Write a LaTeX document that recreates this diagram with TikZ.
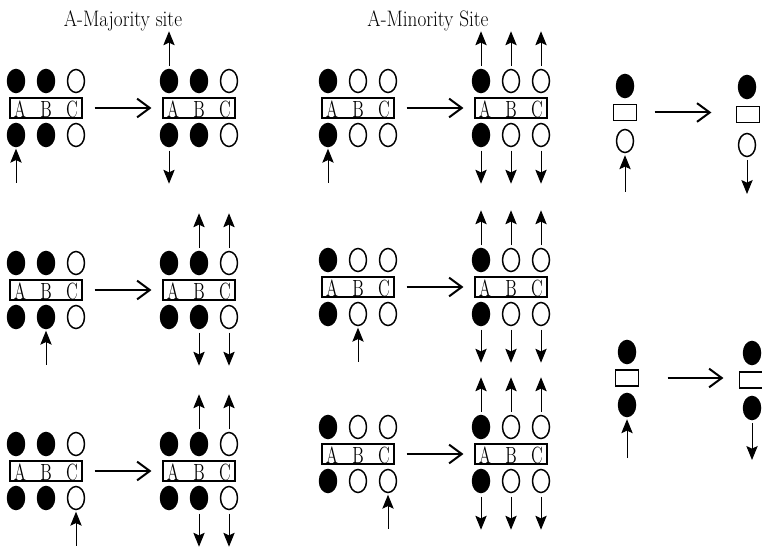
\documentclass[tikz,border=0pt]{standalone}
\usepackage{graphicx}
\usetikzlibrary{shapes.geometric,arrows.meta,calc}
\tikzset{
 dot/.style={ellipse, draw, line width=1.1pt, minimum width=12.75pt, minimum height=17.25pt, inner sep=0pt},
 sitebox/.style={rectangle, draw, line width=0.8pt, minimum width=54pt, minimum height=15pt, inner sep=0pt},
 smallbox/.style={rectangle, draw, line width=0.9pt, minimum width=17.25pt, minimum height=12pt, inner sep=0pt},
 lett/.style={anchor=base, inner sep=0pt, font=\fontsize{13.5}{16}\selectfont},
 ttl/.style={anchor=base, inner sep=0pt, font=\fontsize{15}{18}\selectfont},
 varrow/.style={line width=0.75pt, -{Stealth[length=10.5pt,width=8.5pt,inset=2pt]}},
 harrow/.style={line width=1.5pt, -{Straight Barb[length=9.5pt,width=14pt]}}
}
\newcommand\mkpanel[6]{%
 \node[sitebox] (#1box) at (#2,#3) {};
 \foreach \k/\dx/\lx/\f/\L in {a/-30/-26/#4/A, b/0/0/#5/B, c/30/26/#6/C}{
   \node[dot, fill=\f] (#1t\k) at ({#2+\dx},{#3-27}) {};
   \node[dot, fill=\f] (#1b\k) at ({#2+\dx},{#3+27}) {};
   \node[lett] (#1l\k) at ({#2+\lx},{#3+9.5}) {\scalebox{0.92}[1.3]{\L}};
 }}
\newcommand\inarrow[2]{%
 \coordinate (#1in) at ($(#1b#2.south)+(0,35.5)$);
 \draw[varrow, shorten >=1.1pt] (#1in) -- (#1b#2);}
\newcommand\outarrows[2]{%
 \coordinate (#1up#2) at ($(#1t#2.north)+(0,-37.5)$);
 \draw[varrow, shorten <=1.9pt] (#1t#2) -- (#1up#2);
 \coordinate (#1dn#2) at ($(#1b#2.south)+(0,36.5)$);
 \draw[varrow, shorten <=2.6pt] (#1b#2) -- (#1dn#2);}
\newcommand\transarrow[2]{%
 \draw[harrow, shorten <=9pt, shorten >=8.25pt] (#1box.east) -- (#1box.east -| #2box.west);}
\begin{document}
\begin{tikzpicture}[x=0.75pt,y=-0.75pt]
\useasboundingbox (0,0) rectangle (762,548);
% titles
\node[ttl] (t1) at (123,27) {\scalebox{0.96}[1.12]{A-Majority site}};
\node[ttl] (t2) at (428,27) {\scalebox{0.96}[1.12]{A-Minority Site}};
% left column
\mkpanel{pal}{46}{108}{black}{black}{white}
\mkpanel{par}{199}{108}{black}{black}{white}
\inarrow{pal}{a} \outarrows{par}{a} \transarrow{pal}{par}
\mkpanel{pbl}{46}{290}{black}{black}{white}
\mkpanel{pbr}{199}{290}{black}{black}{white}
\inarrow{pbl}{b} \outarrows{pbr}{b} \outarrows{pbr}{c} \transarrow{pbl}{pbr}
\mkpanel{pcl}{46}{471}{black}{black}{white}
\mkpanel{pcr}{199}{471}{black}{black}{white}
\inarrow{pcl}{c} \outarrows{pcr}{b} \outarrows{pcr}{c} \transarrow{pcl}{pcr}
% middle column
\mkpanel{mal}{358}{108}{black}{white}{white}
\mkpanel{mar}{511}{108}{black}{white}{white}
\inarrow{mal}{a} \outarrows{mar}{a} \outarrows{mar}{b} \outarrows{mar}{c} \transarrow{mal}{mar}
\mkpanel{mbl}{358}{287}{black}{white}{white}
\mkpanel{mbr}{511}{287}{black}{white}{white}
\inarrow{mbl}{b} \outarrows{mbr}{a} \outarrows{mbr}{b} \outarrows{mbr}{c} \transarrow{mbl}{mbr}
\mkpanel{mcl}{358}{454}{black}{white}{white}
\mkpanel{mcr}{511}{454}{black}{white}{white}
\inarrow{mcl}{c} \outarrows{mcr}{a} \outarrows{mcr}{b} \outarrows{mcr}{c} \transarrow{mcl}{mcr}
% right column, top
\node[dot, fill=black] (qAlt) at (625,86) {};
\node[smallbox] (qAlbox) at (625,112.5) {};
\node[dot, fill=white] (qAlb) at (625,141) {};
\coordinate (qAin) at (625,192);
\draw[varrow, shorten >=1.5pt] (qAin) -- (qAlb);
\node[dot, fill=black] (qArt) at (747,87) {};
\node[smallbox] (qArbox) at (748,114.5) {};
\node[dot, fill=white] (qArb) at (747,145) {};
\coordinate (qAout) at (747,194);
\draw[varrow, shorten <=2pt] (qArb) -- (qAout);
\draw[harrow, shorten <=13.1pt, shorten >=18.4pt] (qAlbox.east) -- (qAlbox.east -| qArbox.west);
% right column, bottom
\node[dot, fill=black] (qBlt) at (627,352) {};
\node[smallbox] (qBlbox) at (627,378) {};
\node[dot, fill=black] (qBlb) at (627,405) {};
\coordinate (qBin) at (627,458);
\draw[varrow, shorten >=1.5pt] (qBin) -- (qBlb);
\node[dot, fill=black] (qBrt) at (752,353) {};
\node[smallbox] (qBrbox) at (751,380) {};
\node[dot, fill=black] (qBrb) at (752,408) {};
\coordinate (qBout) at (752,460);
\draw[varrow, shorten <=2pt] (qBrb) -- (qBout);
\draw[harrow, shorten <=21.4pt, shorten >=11.6pt] (qBlbox.east) -- (qBlbox.east -| qBrbox.west);
\end{tikzpicture}
\end{document}
